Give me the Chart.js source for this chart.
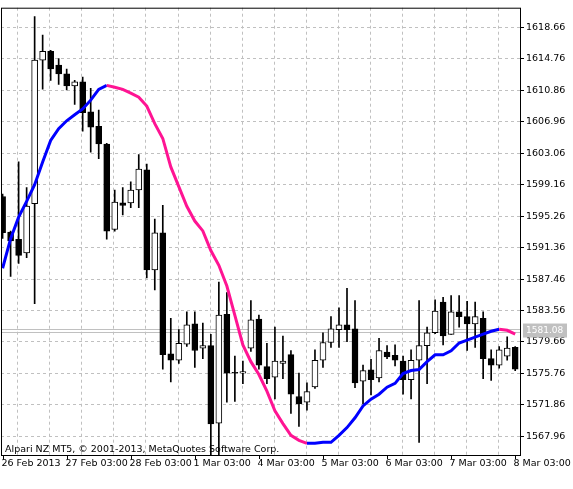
<!DOCTYPE html>
<html>
<head>
<meta charset="utf-8">
<script src="https://cdn.jsdelivr.net/npm/chart.js@4.4.1/dist/chart.umd.min.js"></script>
<style>
  html, body { margin: 0; padding: 0; background: #fff; }
  #wrap { width: 573px; height: 489px; }
</style>
</head>
<body>
<div id="wrap"><canvas id="c" width="573" height="489"></canvas></div>
<script>
// H3 candles, 26 Feb 2013 .. 8 Mar 2013
const opens  = [1597.7,1593.3,1592.4,1590.7,1596.8,1614.6,1615.7,1614.0,1612.9,1611.4,1611.9,1608.2,1606.4,1604.2,1593.6,1596.9,1596.9,1598.5,1601.0,1588.6,1593.2,1578.2,1577.4,1579.4,1581.9,1578.9,1579.2,1569.6,1583.1,1575.9,1575.8,1578.9,1582.5,1576.6,1575.3,1577.0,1578.1,1572.9,1572.2,1574.1,1577.4,1579.6,1581.2,1581.8,1581.3,1574.8,1576.2,1575.2,1578.4,1578.0,1577.3,1575.0,1577.4,1579.2,1580.8,1584.6,1580.6,1583.4,1582.8,1581.9,1582.6,1577.6,1576.8,1577.9,1579.0];
const highs  = [1598.0,1593.4,1602.0,1598.8,1620.0,1617.7,1615.8,1614.8,1613.5,1612.1,1612.5,1611.1,1608.4,1604.3,1598.5,1598.8,1599.5,1602.9,1601.7,1594.9,1596.6,1582.6,1581.2,1583.4,1583.4,1582.0,1580.6,1587.1,1585.8,1577.9,1577.3,1584.8,1583.0,1579.5,1581.5,1580.4,1578.6,1575.8,1574.6,1578.7,1580.8,1582.8,1583.9,1586.3,1584.8,1576.8,1577.5,1580.1,1579.2,1579.3,1577.9,1578.7,1584.8,1581.5,1584.9,1585.2,1585.4,1585.4,1584.7,1584.6,1583.4,1578.7,1579.1,1580.3,1579.1];
const lows   = [1592.5,1587.8,1589.4,1590.1,1584.4,1611.0,1612.1,1611.6,1610.9,1609.1,1605.8,1603.2,1602.4,1592.4,1593.4,1595.4,1596.3,1596.3,1587.6,1586.1,1576.3,1574.7,1577.0,1579.1,1576.5,1577.6,1565.1,1565.5,1572.2,1572.3,1574.5,1578.5,1576.3,1574.5,1572.6,1575.1,1570.8,1569.2,1571.2,1573.9,1576.5,1579.0,1579.0,1579.7,1574.0,1572.0,1573.1,1574.7,1577.6,1576.7,1573.2,1572.6,1567.2,1574.5,1580.7,1579.3,1580.6,1581.5,1578.6,1579.0,1575.1,1574.9,1576.4,1577.4,1576.1];
const closes = [1593.2,1592.2,1590.4,1596.5,1614.6,1615.7,1613.5,1612.9,1611.4,1611.9,1608.1,1606.3,1604.2,1593.4,1597.0,1596.6,1598.5,1601.1,1588.6,1593.2,1578.1,1577.4,1579.5,1581.8,1578.6,1579.2,1569.5,1583.0,1575.8,1575.8,1576.0,1582.4,1576.8,1575.1,1577.3,1577.3,1573.2,1572.0,1573.5,1577.4,1579.6,1581.3,1581.8,1581.2,1574.6,1576.1,1575.0,1578.6,1577.8,1577.4,1575.0,1577.4,1579.2,1580.8,1583.5,1580.4,1583.4,1582.8,1581.9,1582.8,1577.6,1576.8,1578.7,1578.9,1576.3];
// moving average
const maValues = [1588.80,1592.46,1595.14,1597.09,1599.16,1601.97,1604.65,1606.11,1607.08,1607.82,1608.55,1609.64,1610.98,1611.47,1611.23,1610.98,1610.50,1610.01,1608.91,1606.72,1604.89,1601.36,1598.92,1596.48,1594.65,1593.43,1591.00,1589.17,1586.60,1582.95,1579.29,1577.22,1575.63,1573.56,1571.13,1569.54,1568.08,1567.47,1567.10,1567.10,1567.22,1567.22,1568.08,1569.05,1570.27,1571.73,1572.58,1573.19,1574.05,1574.53,1575.75,1576.12,1576.24,1577.22,1578.07,1578.07,1578.56,1579.53,1579.90,1580.26,1580.63,1580.99,1581.24,1581.11,1580.63];
const yTicks = [1567.96,1571.86,1575.76,1579.66,1583.56,1587.46,1591.36,1595.26,1599.16,1603.06,1606.96,1610.86,1614.76,1618.66];
const xLabels = ['26 Feb 2013','27 Feb 03:00','28 Feb 03:00','1 Mar 03:00','4 Mar 03:00','5 Mar 03:00','6 Mar 03:00','7 Mar 03:00','8 Mar 03:00'];
const xLabelIdx = [0,8,16,24,32,40,48,56,64];
const lastPrice = 1581.08;
const copyright = 'Alpari NZ MT5, © 2001-2013, MetaQuotes Software Corp.';

const FONT = '"DejaVu Sans", Tahoma, sans-serif';
const idx = opens.map((_, i) => i);
const wicks = idx.map(i => ({ x: i, y: [lows[i], highs[i]] }));
const bodies = idx.map(i => ({ x: i, y: [opens[i], closes[i] === opens[i] ? closes[i] + 0.05 : closes[i]] }));
const bodyFill = idx.map(i => closes[i] >= opens[i] ? '#ffffff' : '#000000');
const ma = idx.map(i => ({ x: i, y: maValues[i] }));

const overlay = {
  id: 'overlay',
  beforeDatasetsDraw(chart) {
    const { ctx, scales: { y }, chartArea: a } = chart;
    const py = Math.round(y.getPixelForValue(lastPrice)) + 0.5;
    ctx.save();
    ctx.strokeStyle = '#c0c0c0';
    ctx.lineWidth = 1;
    ctx.beginPath();
    ctx.moveTo(a.left, py - 2); ctx.lineTo(a.right, py - 2);
    ctx.moveTo(a.left, py + 1); ctx.lineTo(a.right, py + 1);
    ctx.stroke();
    ctx.restore();
  },
  afterDraw(chart) {
    const { ctx, scales: { x, y }, chartArea: a } = chart;
    ctx.save();
    // frame
    ctx.strokeStyle = '#000';
    ctx.lineWidth = 1;
    ctx.strokeRect(a.left + 0.5, a.top + 0.5, a.right - a.left, a.bottom - a.top);
    // price label
    const py = y.getPixelForValue(lastPrice);
    ctx.fillStyle = '#c0c0c0';
    ctx.fillRect(a.right + 3, py - 7, 44, 14);
    ctx.fillStyle = '#fff';
    ctx.font = '9px ' + FONT;
    ctx.textBaseline = 'middle';
    ctx.fillText(lastPrice.toFixed(2), a.right + 6, py);
    // x labels
    ctx.fillStyle = '#000';
    ctx.textBaseline = 'top';
    ctx.font = '9.5px ' + FONT;
    xLabelIdx.forEach((v, k) => {
      const px = Math.round(x.getPixelForValue(v)) + 0.5;
      ctx.beginPath();
      ctx.moveTo(px, a.bottom); ctx.lineTo(px, a.bottom + 4);
      ctx.stroke();
      ctx.fillText(xLabels[k], px - 2, a.bottom + 4);
    });
    // copyright
    ctx.textBaseline = 'bottom';
    ctx.fillText(copyright, a.left + 4, a.bottom - 1);
    ctx.restore();
  }
};

new Chart(document.getElementById('c'), {
  type: 'bar',
  data: {
    datasets: [
      { type: 'line', data: ma, borderWidth: 3, pointRadius: 0, order: 1,
        borderColor: '#0000ff',
        segment: { borderColor: c => c.p1.parsed.y >= c.p0.parsed.y ? '#0000ff' : '#ff1493' } },
      { data: bodies, backgroundColor: bodyFill, borderColor: '#000', borderWidth: 1,
        borderSkipped: false, barThickness: 6, grouped: false, order: 2 },
      { data: wicks, backgroundColor: '#000', borderWidth: 0, barThickness: 1, grouped: false, order: 3 }
    ]
  },
  options: {
    responsive: false,
    animation: false,
    layout: { padding: { left: 1, top: 0, right: 0, bottom: 0 } },
    plugins: { legend: { display: false }, tooltip: { enabled: false } },
    scales: {
      x: {
        type: 'linear', min: -0.2, max: 64.6, offset: false,
        afterBuildTicks: s => { s.ticks = []; for (let v = 3.9; v < 64.6; v += 4) s.ticks.push({ value: v }); },
        afterFit: s => { s.height = 34; },
        grid: { color: '#c0c0c0', drawTicks: false, tickLength: 0 },
        border: { display: false, dash: [3, 3] },
        ticks: { display: false }
      },
      y: {
        position: 'right',
        min: 1565.65, max: 1621.1,
        afterBuildTicks: s => { s.ticks = yTicks.map(v => ({ value: v })); },
        afterFit: s => { s.width = 53; },
        grid: { color: '#c0c0c0', tickLength: 4, tickColor: '#000' },
        border: { display: false, dash: [3, 3] },
        ticks: { color: '#000', font: { family: FONT, size: 9.5 }, padding: 2,
                 callback: v => v.toFixed(2) }
      }
    }
  },
  plugins: [overlay]
});
</script>
</body>
</html>
